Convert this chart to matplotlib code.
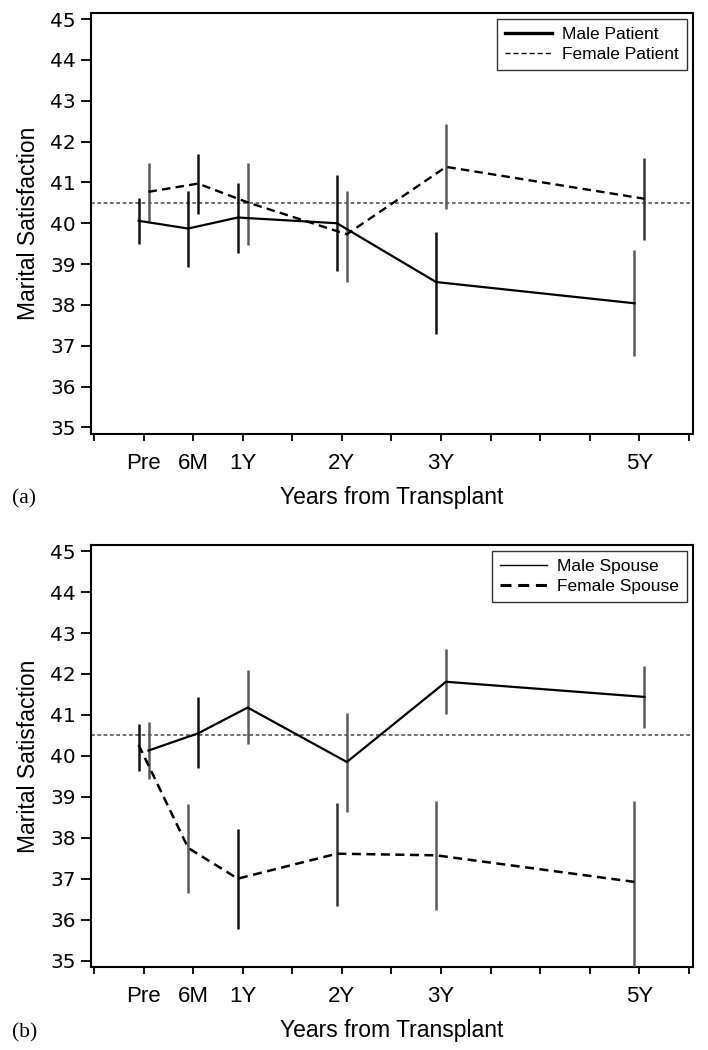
import matplotlib
matplotlib.use('Agg')
import matplotlib.pyplot as plt

plt.rcParams['font.family'] = ['Liberation Sans', 'DejaVu Sans']

# time points, in half-years from transplant
time_labels = ['Pre', '6M', '1Y', '2Y', '3Y', '5Y']
time_pos = [0, 1, 2, 4, 6, 10]
minor_pos = list(range(-1, 12))

# (a) patients
male_patient_mean = [40.06, 39.87, 40.14, 40.00, 38.56, 38.04]
male_patient_lo = [39.49, 38.94, 39.28, 38.83, 37.28, 36.75]
male_patient_hi = [40.61, 40.78, 40.98, 41.18, 39.79, 39.34]
female_patient_mean = [40.77, 40.97, 40.51, 39.73, 41.38, 40.60]
female_patient_lo = [40.06, 40.22, 39.46, 38.57, 40.36, 39.59]
female_patient_hi = [41.47, 41.69, 41.47, 40.79, 42.44, 41.59]

# (b) spouses
male_spouse_mean = [40.13, 40.55, 41.18, 39.85, 41.81, 41.44]
male_spouse_lo = [39.44, 39.70, 40.29, 38.63, 41.02, 40.67]
male_spouse_hi = [40.83, 41.43, 42.09, 41.04, 42.60, 42.20]
female_spouse_mean = [40.27, 37.75, 37.00, 37.61, 37.57, 36.92]
female_spouse_lo = [39.64, 36.64, 35.78, 36.33, 36.24, 34.80]
female_spouse_hi = [40.78, 38.83, 38.22, 38.85, 38.89, 38.89]

norm_value = 40.5

DARK = '#111111'
GREY = '#5a5a5a'
DASH = (0, (3.6, 2.2))


def draw_panel(ax, series, legend_widths, tag):
    for s in series:
        xs = [p + s['shift'] for p in time_pos]
        ax.vlines(xs, s['lo'], s['hi'], colors=s['bar_colors'], lw=1.8, zorder=3)
        ax.plot(xs, s['mean'], color='black', lw=s['lw'], ls=s['ls'],
                label=s['label'], zorder=4)

    ax.axhline(norm_value, color='#555555', lw=1.2, ls=(0, (2.2, 1.6)), zorder=2)

    ax.set_xlim(-1.06, 11.08)
    ax.set_ylim(34.84, 45.15)
    ax.set_yticks(range(35, 46))
    ax.set_yticklabels([str(v) for v in range(35, 46)], fontfamily='DejaVu Sans', fontsize=14.5)
    ax.set_xticks(minor_pos)
    ax.set_xticklabels([time_labels[time_pos.index(p)] if p in time_pos else '' for p in minor_pos],
                       fontsize=16)
    ax.tick_params(axis='y', length=7, width=1.3, pad=4)
    ax.tick_params(axis='x', length=5, width=1.3, pad=9)
    for sp in ax.spines.values():
        sp.set_linewidth(1.5)

    ax.set_ylabel('Marital Satisfaction', fontsize=16.5, labelpad=7)
    ax.set_xlabel('Years from Transplant', fontsize=16.5, labelpad=8)
    ax.text(-0.132, -0.155, tag, transform=ax.transAxes, fontsize=15.5,
            fontfamily='Liberation Serif', va='center', ha='left')

    leg = ax.legend(loc='upper right', fontsize=12.5, frameon=True, fancybox=False,
                    edgecolor='black', handlelength=2.7, handletextpad=0.6,
                    labelspacing=0.3, borderpad=0.45, borderaxespad=0.35)
    leg.get_frame().set_linewidth(1.0)
    for line, w in zip(leg.get_lines(), legend_widths):
        line.set_linewidth(w)


fig = plt.figure(figsize=(7.08, 10.5), dpi=100)
ax1 = fig.add_axes([0.1285, 0.5867, 0.8503, 0.401])
ax2 = fig.add_axes([0.1285, 0.0790, 0.8503, 0.4019])

patients = [
    dict(label='Male Patient', mean=male_patient_mean, lo=male_patient_lo, hi=male_patient_hi,
         shift=-0.1, lw=1.6, ls='-', bar_colors=[DARK, DARK, DARK, DARK, DARK, GREY]),
    dict(label='Female Patient', mean=female_patient_mean, lo=female_patient_lo, hi=female_patient_hi,
         shift=0.1, lw=1.7, ls=DASH, bar_colors=[GREY, DARK, GREY, GREY, GREY, '#333333']),
]
spouses = [
    dict(label='Male Spouse', mean=male_spouse_mean, lo=male_spouse_lo, hi=male_spouse_hi,
         shift=0.1, lw=1.6, ls='-', bar_colors=[GREY, DARK, GREY, GREY, GREY, GREY]),
    dict(label='Female Spouse', mean=female_spouse_mean, lo=female_spouse_lo, hi=female_spouse_hi,
         shift=-0.1, lw=1.8, ls=DASH, bar_colors=[DARK, GREY, DARK, '#333333', GREY, GREY]),
]

draw_panel(ax1, patients, [2.4, 1.0], '(a)')
draw_panel(ax2, spouses, [1.0, 2.2], '(b)')

fig.savefig('out.png', dpi=100)
